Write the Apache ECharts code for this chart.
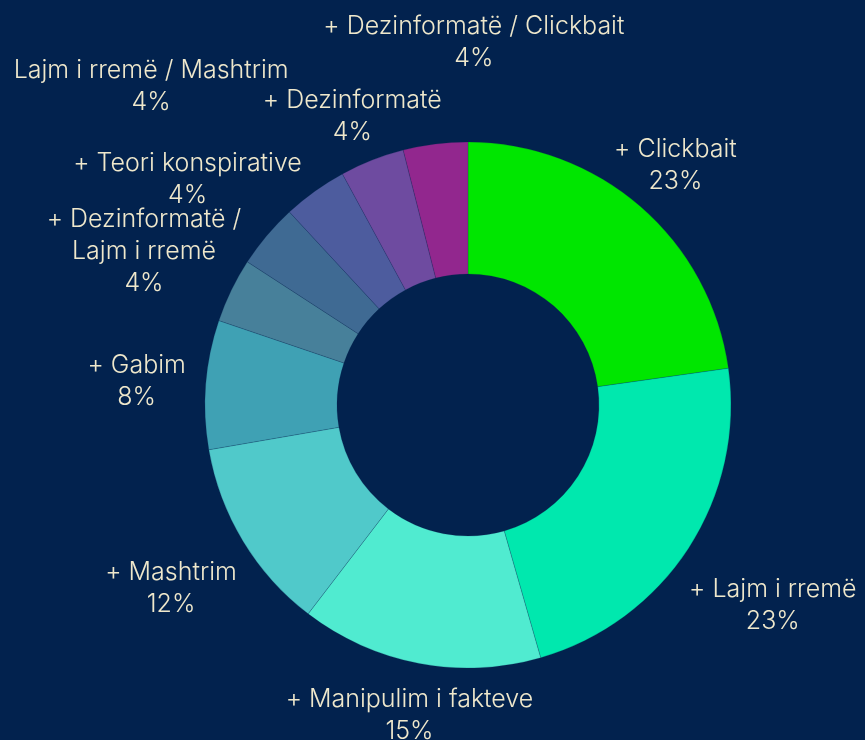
<!DOCTYPE html>
<html lang="sq">
<head>
    <meta charset="UTF-8">
    <title>Llojet e përmbajtjes</title>
    <script src="https://cdn.jsdelivr.net/npm/echarts@6/dist/echarts.min.js"></script>
    <style>
        html, body { margin: 0; padding: 0; background: #02224e; }
        #donut { width: 865px; height: 740px; }
    </style>
</head>
<body>
<div id="donut"></div>
<script>
    // kategoritë dhe përqindjet (sipas radhës në drejtim të akrepave)
    var categories = [
        '+ Clickbait',
        '+ Lajm i rremë',
        '+ Manipulim i fakteve',
        '+ Mashtrim',
        '+ Gabim',
        '+ Dezinformatë /\nLajm i rremë',
        '+ Teori konspirative',
        'Lajm i rremë / Mashtrim',
        '+ Dezinformatë',
        '+ Dezinformatë / Clickbait'
    ];
    var percents = [23, 23, 15, 12, 8, 4, 4, 4, 4, 4];
    var colors = ['#00e600', '#00e8ae', '#50ebd0', '#50c9ca', '#3fa1b4',
        '#47809a', '#3f6a93', '#4d5c9e', '#6e4ba0', '#92278e'];

    // zhvendosje e vogël për etiketat që përplasen
    var labelNudge = {
        0: [-6, 6],
        1: [18, 14],
        3: [-2, 5],
        4: [0, 2],
        5: [28, 17],
        6: [-26, -11],
        7: [-129, -57],
        8: [0, 7],
        9: [45, -50]
    };

    var myChart = echarts.init(document.getElementById('donut'));

    var option = {
        backgroundColor: '#02224e',
        animation: false,
        series: [{
            type: 'pie',
            center: [468, 405],
            radius: [131, 263],
            startAngle: 90,
            clockwise: true,
            data: categories.map(function (name, i) {
                return { name: name, value: percents[i], itemStyle: { color: colors[i] } };
            }),
            itemStyle: { borderColor: 'rgba(10,40,80,0.35)', borderWidth: 0.6 },
            label: {
                show: true,
                position: 'outside',
                formatter: function (p) { return p.name + '\n' + p.value + '%'; },
                color: '#efe8cc',
                fontFamily: 'Inter',
                fontWeight: 300,
                fontSize: 25,
                lineHeight: 32,
                align: 'center',
                overflow: 'none',
                alignTo: 'none'
            },
            labelLine: { show: false },
            emphasis: { disabled: true },
            labelLayout: function (params) {
                var i = params.dataIndex;
                var lay = myChart.getModel().getSeriesByIndex(0).getData().getItemLayout(i);
                var mid = (lay.startAngle + lay.endAngle) / 2;
                var dx = Math.cos(mid), dy = Math.sin(mid);
                var w = params.labelRect.width / 2, h = params.labelRect.height / 2;
                var ext = Math.min(Math.abs(dx) > 1e-6 ? w / Math.abs(dx) : 1e9,
                    Math.abs(dy) > 1e-6 ? h / Math.abs(dy) : 1e9);
                var R = lay.r + 20 + ext;
                var n = labelNudge[i] || [0, 0];
                return {
                    x: lay.cx + R * dx + n[0],
                    y: lay.cy + R * dy + n[1],
                    align: 'center',
                    verticalAlign: 'middle'
                };
            }
        }]
    };

    myChart.setOption(option);
</script>
</body>
</html>
